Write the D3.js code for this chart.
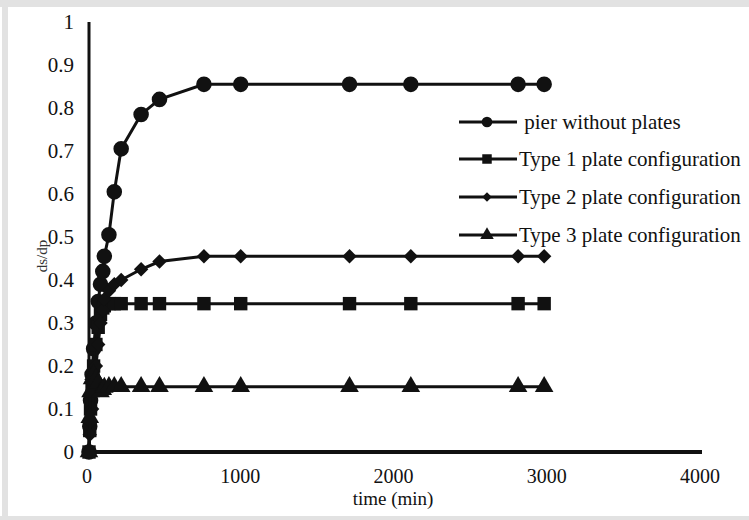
<!DOCTYPE html>
<html>
<head>
<meta charset="utf-8">
<script src="https://cdn.jsdelivr.net/npm/d3@7"></script>
<style>
  body { margin: 0; background: #fff; }
  svg { display: block; }
</style>
</head>
<body>
<svg width="749" height="520"></svg>
<script>
// time (min) for every series
var times = [0, 5, 10, 20, 30, 45, 60, 75, 90, 100, 130, 165, 210, 340, 460, 750, 990, 1700, 2100, 2800, 2970];

var pierNoPlates = [0, 0.06, 0.12, 0.18, 0.24, 0.30, 0.35, 0.39, 0.42, 0.455, 0.505, 0.605, 0.705, 0.785, 0.82, 0.855, 0.855, 0.855, 0.855, 0.855, 0.855];
var type1 = [0, 0.05, 0.10, 0.15, 0.20, 0.25, 0.29, 0.32, 0.335, 0.34, 0.345, 0.345, 0.345, 0.345, 0.345, 0.345, 0.345, 0.345, 0.345, 0.345, 0.345];
var type2 = [0, 0.04, 0.07, 0.10, 0.15, 0.20, 0.25, 0.30, 0.33, 0.355, 0.375, 0.39, 0.40, 0.425, 0.443, 0.455, 0.455, 0.455, 0.455, 0.455, 0.455];
var type3 = [0, 0.08, 0.14, 0.17, 0.18, 0.17, 0.16, 0.14, 0.145, 0.15, 0.152, 0.152, 0.152, 0.152, 0.152, 0.152, 0.152, 0.152, 0.152, 0.152, 0.152];

var seriesNames = [" pier without plates", "Type 1 plate configuration", "Type 2 plate configuration", "Type 3 plate configuration"];
var seriesValues = [pierNoPlates, type1, type2, type3];
var seriesSymbols = [d3.symbolCircle, d3.symbolSquare, d3.symbolSquare, d3.symbolTriangle];
var symbolRotate = [0, 0, 45, 0];
var symbolSizes = [190, 180, 105, 150];
var legendSizes = [90, 90, 45, 80];

var xTicks = [0, 1000, 2000, 3000, 4000];
var yTicks = [0, 0.1, 0.2, 0.3, 0.4, 0.5, 0.6, 0.7, 0.8, 0.9, 1];

var font = "'Liberation Serif', 'Times New Roman', Tinos, 'DejaVu Serif', serif";

var svg = d3.select("svg")
    .attr("font-family", font);

// grey frame of the screenshot
svg.append("rect").attr("x", 0).attr("y", 0).attr("width", 749).attr("height", 7).attr("fill", "#e2e2e2");
svg.append("rect").attr("x", 2).attr("y", 0).attr("width", 6).attr("height", 520).attr("fill", "#e2e2e2");
svg.append("rect").attr("x", 0).attr("y", 516).attr("width", 749).attr("height", 4).attr("fill", "#e2e2e2");

var x = d3.scaleLinear().domain([0, 4000]).range([89, 702]);
var y = d3.scaleLinear().domain([0, 1]).range([452, 22]);

// axes
var g = svg.append("g");

g.append("line")
    .attr("x1", x(0)).attr("x2", x(0))
    .attr("y1", y(1)).attr("y2", y(0))
    .attr("stroke", "#111").attr("stroke-width", 3);
g.append("line")
    .attr("x1", x(0)).attr("x2", x(4000))
    .attr("y1", y(0)).attr("y2", y(0))
    .attr("stroke", "#111").attr("stroke-width", 4);

g.selectAll(".ytick")
  .data(yTicks)
  .enter().append("text")
    .attr("class", "ytick")
    .attr("x", 74)
    .attr("y", function(d) { return y(d) + 7; })
    .attr("text-anchor", "end")
    .attr("font-size", 21)
    .attr("fill", "#111")
    .text(function(d) { return d; });

g.selectAll(".xtick")
  .data(xTicks)
  .enter().append("text")
    .attr("class", "xtick")
    .attr("x", function(d) { return x(d) - 2; })
    .attr("y", 483)
    .attr("text-anchor", "middle")
    .attr("font-size", 20)
    .attr("fill", "#111")
    .text(function(d) { return d; });

g.append("text")
    .attr("x", 393)
    .attr("y", 505)
    .attr("text-anchor", "middle")
    .attr("font-size", 19)
    .attr("fill", "#111")
    .text("time (min)");

g.append("text")
    .attr("transform", "translate(47,256) rotate(-90)")
    .attr("text-anchor", "middle")
    .attr("font-size", 15)
    .attr("fill", "#333")
    .text("ds/dp");

// series
var line = d3.line()
    .x(function(d) { return x(d.t); })
    .y(function(d) { return y(d.v); });

seriesValues.forEach(function(vals, i) {
  var pts = vals.map(function(v, j) { return { t: times[j], v: v }; });
  var sg = svg.append("g");
  sg.append("path")
      .datum(pts)
      .attr("d", line)
      .attr("fill", "none")
      .attr("stroke", "#111")
      .attr("stroke-width", 3);
  sg.selectAll("path.mark")
    .data(pts)
    .enter().append("path")
      .attr("class", "mark")
      .attr("transform", function(d) { return "translate(" + x(d.t) + "," + y(d.v) + ") rotate(" + symbolRotate[i] + ")"; })
      .attr("d", d3.symbol().type(seriesSymbols[i]).size(symbolSizes[i]))
      .attr("fill", "#111");
});

// legend
var legend = svg.append("g");
var legendY = [122, 159, 197, 235];
seriesNames.forEach(function(name, i) {
  var row = legend.append("g").attr("transform", "translate(0," + legendY[i] + ")");
  row.append("line")
      .attr("x1", 459).attr("x2", 517)
      .attr("y1", 0).attr("y2", 0)
      .attr("stroke", "#111").attr("stroke-width", 3);
  row.append("path")
      .attr("transform", "translate(487,0) rotate(" + symbolRotate[i] + ")")
      .attr("d", d3.symbol().type(seriesSymbols[i]).size(legendSizes[i]))
      .attr("fill", "#111");
  row.append("text")
      .attr("x", 519)
      .attr("y", 7)
      .attr("font-size", 21)
      .attr("fill", "#111")
      .attr("xml:space", "preserve")
      .text(name);
});
</script>
</body>
</html>
